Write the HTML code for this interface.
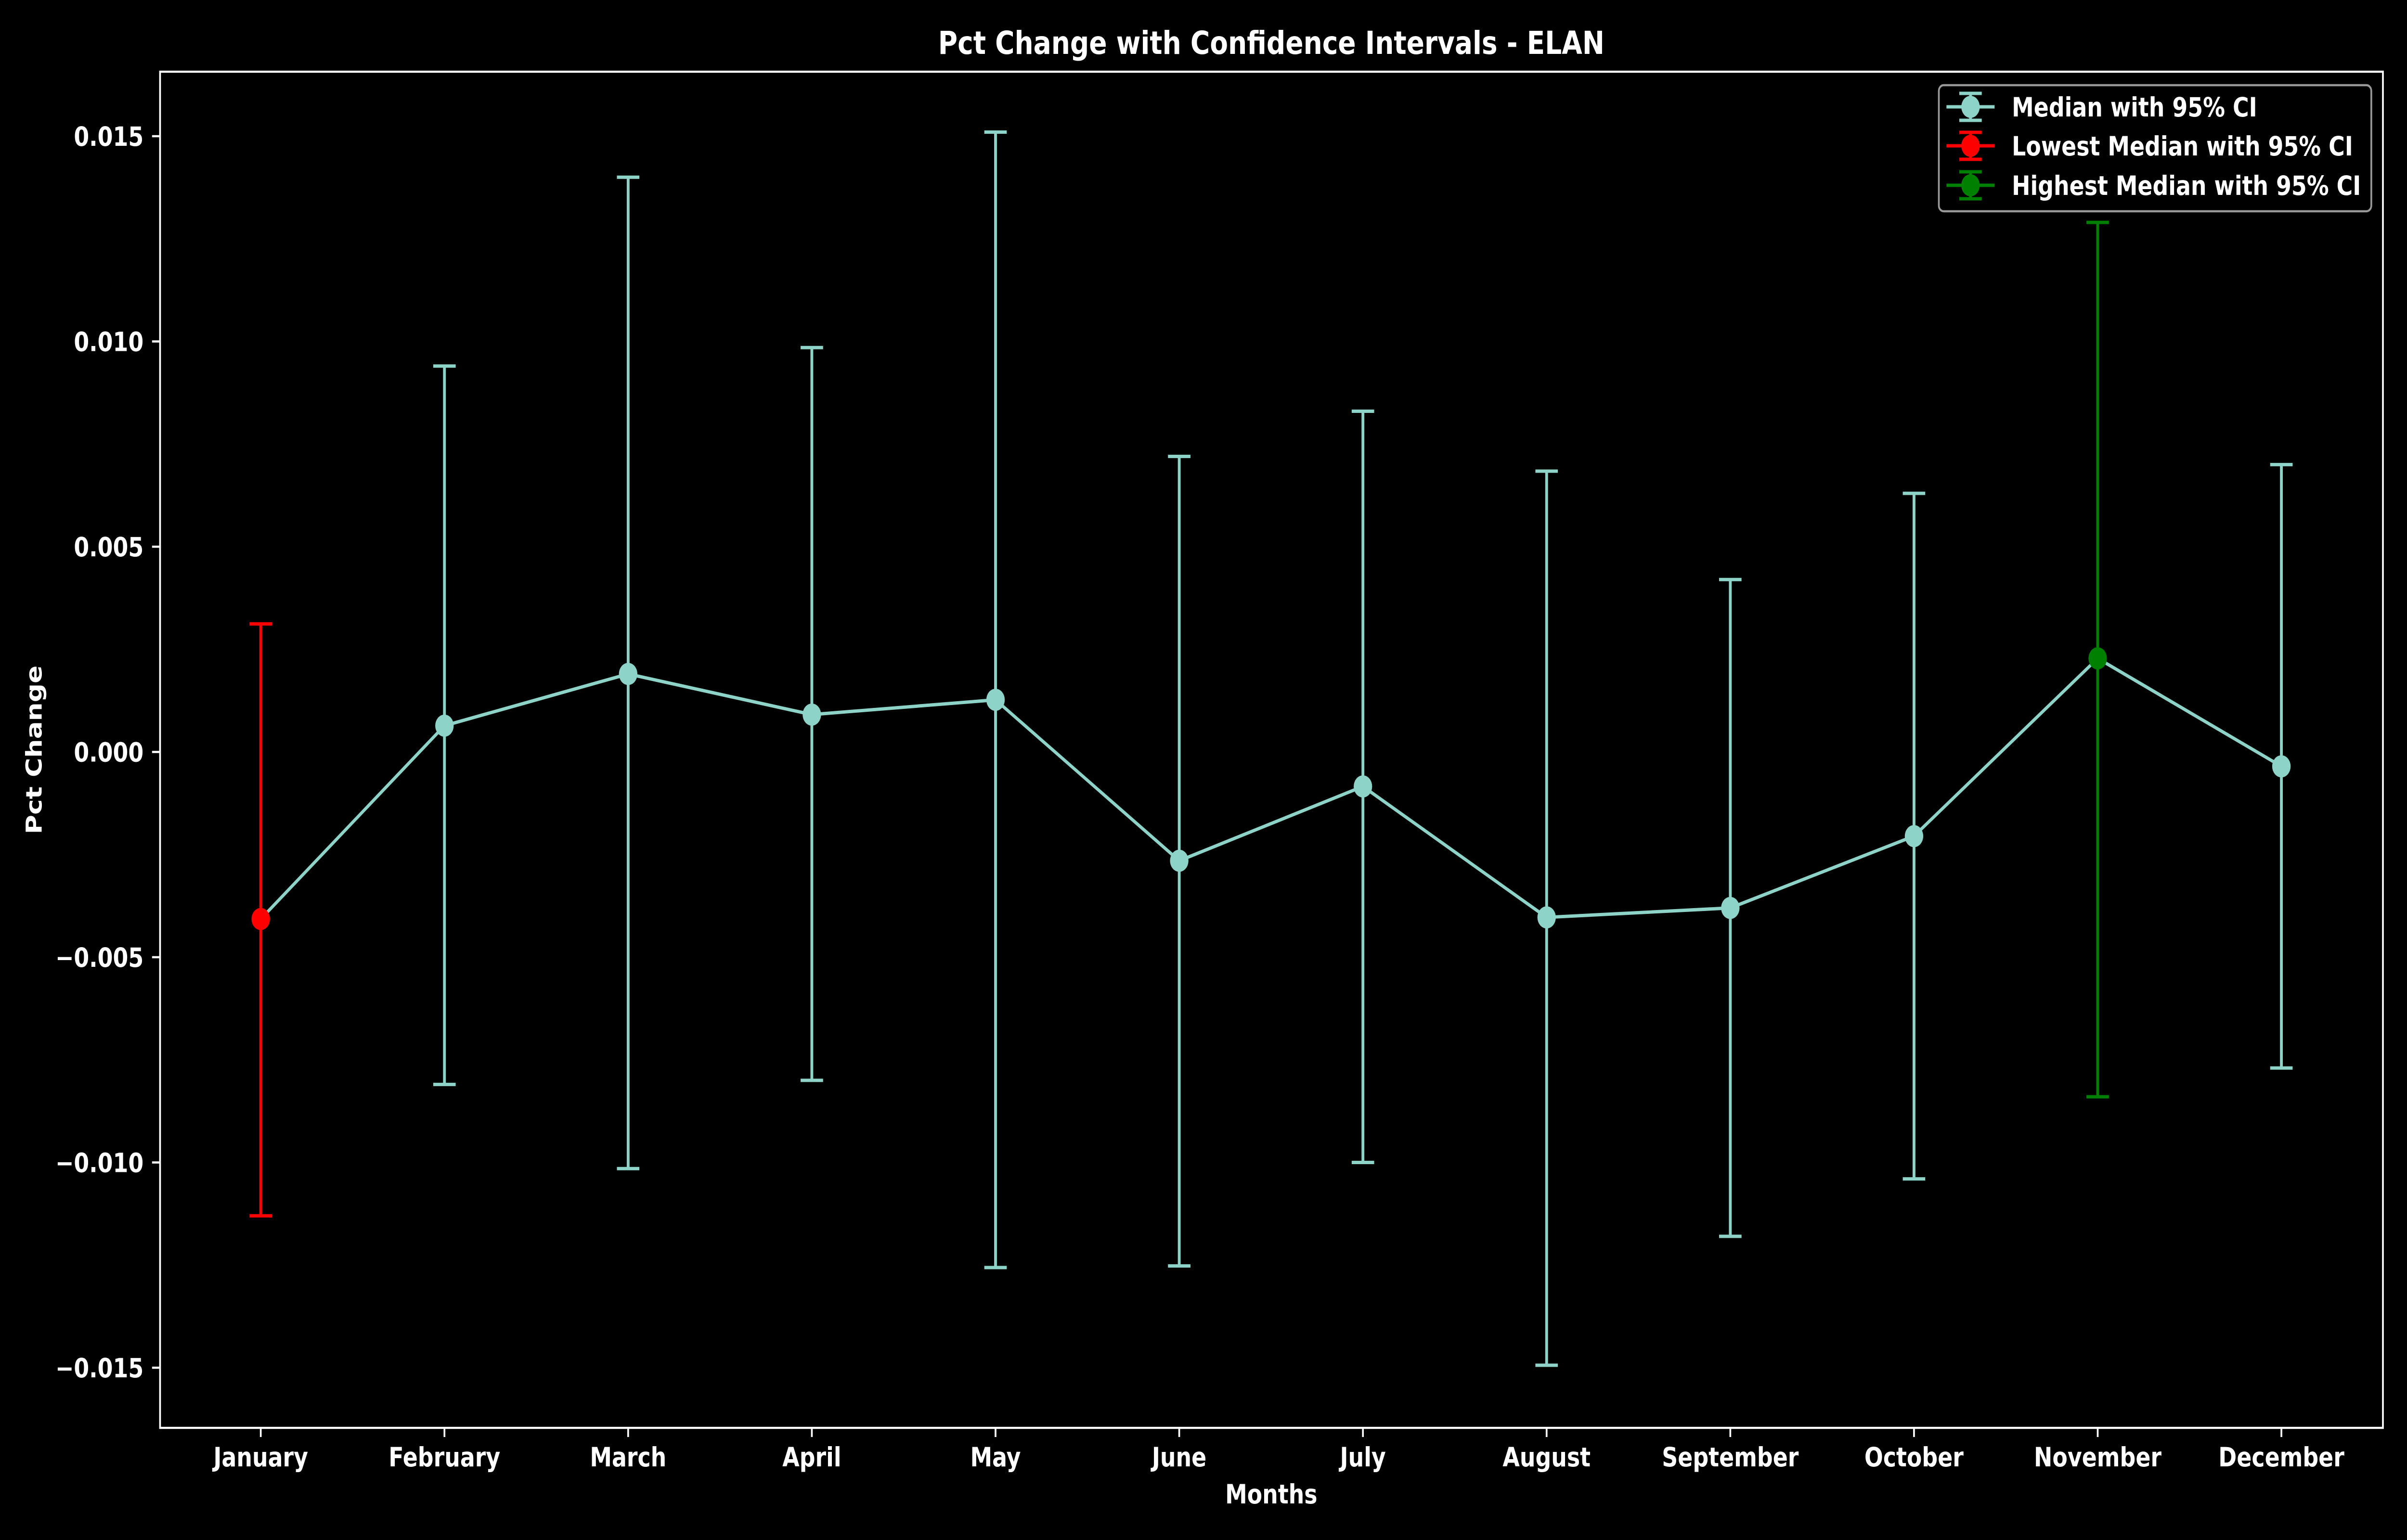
<!DOCTYPE html>
<html><head><meta charset="utf-8"><style>
html,body{margin:0;padding:0;background:#000;width:100%;height:100%;overflow:hidden;}
svg{display:block;width:100vw;height:100vh;font-family:"DejaVu Sans","Liberation Sans",sans-serif;font-weight:bold;}
</style></head><body>
<svg id="chart" viewBox="0 0 6000 3200" preserveAspectRatio="none" xmlns="http://www.w3.org/2000/svg">
<rect width="6000" height="3200" fill="#000"/>
<text x="3169" y="112" font-size="66" fill="#fff" text-anchor="middle">Pct Change with Confidence Intervals - ELAN</text>
<g id="yticks"></g>
<g id="xticks"></g>
<g id="series"></g>
<rect x="399" y="149" width="5541" height="2818" fill="none" stroke="#fff" stroke-width="4.4"/>
<text x="3169" y="3124" font-size="55" fill="#fff" text-anchor="middle">Months</text>
<text transform="translate(104,1558) rotate(-90)" font-size="55" fill="#fff" text-anchor="middle">Pct Change</text>
<g>
<rect x="4833" y="177" width="1078" height="262" rx="12" fill="#000" stroke="#999" stroke-width="4.4"/>
<g id="legend-items"></g>
</g>
</svg>
<script>
const months = ["January","February","March","April","May","June","July","August","September","October","November","December"];
const medians = [-0.00407,0.00064,0.0019,0.00091,0.00127,-0.00265,-0.00084,-0.00403,-0.0038,-0.00205,0.00228,-0.00035];
const upperCI = [0.00312,0.0094,0.0140,0.00985,0.0151,0.0072,0.0083,0.00684,0.0042,0.0063,0.0129,0.0070];
const lowerCI = [-0.0113,-0.0081,-0.01015,-0.0080,-0.01256,-0.01252,-0.0100,-0.01494,-0.0118,-0.0104,-0.0084,-0.0077];
const yTickValues = [0.015,0.010,0.005,0.000,-0.005,-0.010,-0.015];
const yTickLabels = ["0.015","0.010","0.005","0.000","\u22120.005","\u22120.010","\u22120.015"];
const legendLabels = ["Median with 95% CI","Lowest Median with 95% CI","Highest Median with 95% CI"];

const NS="http://www.w3.org/2000/svg";
const X0=650, DX=457.9, Y0=1562.5, K=85300;
const xs=i=>X0+i*DX, ys=v=>Y0-v*K;
const TEAL="#8dd3c7", RED="#ff0000", GREEN="#008000";
const SW=7, R=23;
function mk(tag,attrs,parent){const e=document.createElementNS(NS,tag);for(const k in attrs)e.setAttribute(k,attrs[k]);parent.appendChild(e);return e;}

const yg=document.getElementById('yticks');
yTickValues.forEach((v,i)=>{
  const t=mk('line',{x1:379,x2:399,y1:ys(v),y2:ys(v),stroke:'#fff','stroke-width':4.4},yg);
  
  
  const l=mk('text',{x:358,y:ys(v)+20,'font-size':55,fill:'#fff','text-anchor':'end'},yg);
  l.textContent=yTickLabels[i];
  
  
});
const xg=document.getElementById('xticks');
months.forEach((m,i)=>{
  const t=mk('line',{x1:xs(i),x2:xs(i),y1:2967,y2:2986,stroke:'#fff','stroke-width':4.4},xg);
  
  
  const l=mk('text',{x:xs(i),y:3047,'font-size':55,fill:'#fff','text-anchor':'middle'},xg);
  l.textContent=m;
  
  
});

const sg=document.getElementById('series');
let lo=0,hi=0;
medians.forEach((v,i)=>{if(v<medians[lo])lo=i;if(v>medians[hi])hi=i;});
const colorOf=i=>i===lo?RED:(i===hi?GREEN:TEAL);
function errbar(i,col,g){
  const x=xs(i);
  mk('line',{x1:x,x2:x,y1:ys(lowerCI[i]),y2:ys(upperCI[i]),stroke:col,'stroke-width':SW},g);
  mk('line',{x1:x-28,x2:x+28,y1:ys(lowerCI[i]),y2:ys(lowerCI[i]),stroke:col,'stroke-width':SW},g);
  mk('line',{x1:x-28,x2:x+28,y1:ys(upperCI[i]),y2:ys(upperCI[i]),stroke:col,'stroke-width':SW},g);
}
medians.forEach((v,i)=>{
  if(i===lo||i===hi) return;
  const g=mk('g',{},sg);
  
  
  errbar(i,TEAL,g);
});
const line=mk('polyline',{points:medians.map((v,i)=>xs(i)+','+ys(v)).join(' '),fill:'none',stroke:TEAL,'stroke-width':SW},sg);


medians.forEach((v,i)=>{
  if(i===lo||i===hi) return;
  const c=mk('circle',{cx:xs(i),cy:ys(v),r:R,fill:TEAL},sg);
  
  
});
[lo,hi].forEach(i=>{
  const g=mk('g',{},sg);
  
  
  errbar(i,colorOf(i),g);
  const c=mk('circle',{cx:xs(i),cy:ys(medians[i]),r:R,fill:colorOf(i)},sg);
  
  
});

const lg=document.getElementById('legend-items');
const lcols=[TEAL,RED,GREEN], lys=[222,303,385];
legendLabels.forEach((lab,i)=>{
  const g=mk('g',{},lg);
  
  
  const cx=4912, cy=lys[i], c=lcols[i];
  mk('line',{x1:cx-60,x2:cx+60,y1:cy,y2:cy,stroke:c,'stroke-width':SW},g);
  mk('line',{x1:cx,x2:cx,y1:cy-28,y2:cy+28,stroke:c,'stroke-width':SW},g);
  mk('line',{x1:cx-28,x2:cx+28,y1:cy-28,y2:cy-28,stroke:c,'stroke-width':SW},g);
  mk('line',{x1:cx-28,x2:cx+28,y1:cy+28,y2:cy+28,stroke:c,'stroke-width':SW},g);
  mk('circle',{cx:cx,cy:cy,r:R,fill:c},g);
  const t=mk('text',{x:5015,y:cy+20,'font-size':55,fill:'#fff'},g);
  t.textContent=lab;
});
</script>
</body></html>
